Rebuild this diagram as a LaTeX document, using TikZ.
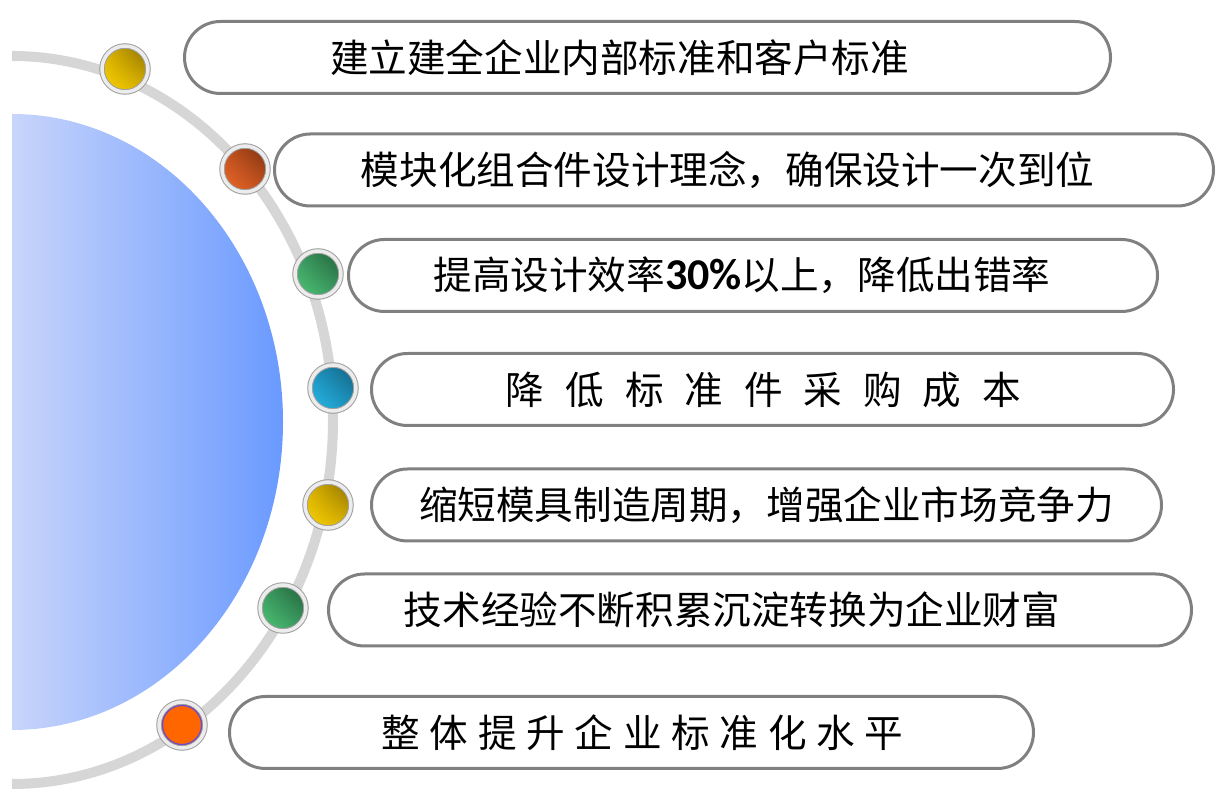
\documentclass[tikz,border=0pt]{standalone}
\usepackage{fontspec}
\usetikzlibrary{shadings}
\newfontfamily\cjk{Noto Sans CJK SC}
\newfontfamily\numfont{Carlito}
\definecolor{lineGray}{HTML}{808080}
\definecolor{arcGray}{HTML}{D6D6D6}
\definecolor{blueL}{HTML}{C8D5FB}
\definecolor{blueR}{HTML}{6A9AFF}
\definecolor{ylwL}{HTML}{FAD200}
\definecolor{ylwM}{HTML}{DDB400}
\definecolor{ylwD}{HTML}{8A6E00}
\definecolor{redL}{HTML}{F06A2A}
\definecolor{redM}{HTML}{C4521E}
\definecolor{redD}{HTML}{783010}
\definecolor{grnL}{HTML}{50C878}
\definecolor{grnM}{HTML}{3A9A60}
\definecolor{grnD}{HTML}{215E38}
\definecolor{cyanL}{HTML}{28BCEC}
\definecolor{cyanM}{HTML}{1C92BC}
\definecolor{cyanD}{HTML}{135E7E}
\definecolor{orng}{HTML}{FF6600}
\definecolor{rim}{HTML}{6A4AD0}
\newcommand{\gapA}{\hspace{21pt}}
\newcommand{\gapB}{\hspace{9.7pt}}
\tikzstyle{pill}=[draw=lineGray, line width=3pt, rounded corners=36pt, minimum height=72pt, inner sep=0pt]
\tikzstyle{words}=[font=\cjk\fontsize{38.6}{40}\selectfont, inner sep=0pt]
\tikzstyle{ball}=[circle, minimum size=46pt, inner sep=0pt, draw=gray!75, line width=1pt, double=gray!15, double distance=3.5pt]
\tikzstyle{yellowball}=[ball, upper right=ylwD, lower left=ylwL, upper left=ylwM, lower right=ylwM]
\tikzstyle{redball}=[ball, upper right=redD, lower left=redL, upper left=redM, lower right=redM]
\tikzstyle{greenball}=[ball, upper right=grnD, lower left=grnL, upper left=grnM, lower right=grnM]
\tikzstyle{cyanball}=[ball, upper right=cyanD, lower left=cyanL, upper left=cyanM, lower right=cyanM]
\tikzstyle{orangeball}=[ball, fill=orng]

\begin{document}
\begin{tikzpicture}[x=1pt, y=1pt]
  \useasboundingbox (0,0) rectangle (1222,791);
  % arc and half disc
  \draw[arcGray, line width=10pt] (12,735) arc[start angle=90, end angle=-90, x radius=321, y radius=364];
  \shade[left color=blueL, right color=blueR] (12,677) arc[start angle=90, end angle=-90, x radius=271, y radius=308] -- cycle;

  % boxes
  \node[pill, minimum width=926pt] (box1) at (647.5,733.5) {};
  \node[pill, minimum width=939pt] (box2) at (744,621) {};
  \node[pill, minimum width=809pt] (box3) at (753,515.5) {};
  \node[pill, minimum width=802pt] (box4) at (772.5,401.5) {};
  \node[pill, minimum width=790pt] (box5) at (766.5,286) {};
  \node[pill, minimum width=863pt] (box6) at (760,181) {};
  \node[pill, minimum width=804pt] (box7) at (631.5,58.5) {};

  % texts
  \node[words] (txt1) at ([xshift=-28pt]box1.center) {建立建全企业内部标准和客户标准};
  \node[words] (txt2) at ([xshift=-16.5pt]box2.center) {模块化组合件设计理念，确保设计一次到位};
  \node[words] (txt3) at ([xshift=-11pt]box3.center) {提高设计效率{\numfont\bfseries\fontsize{44}{46}\selectfont 30\%}以上，降低出错率};
  \node[words] (txt4) at ([xshift=-9pt]box4.center) {降\gapA 低\gapA 标\gapA 准\gapA 件\gapA 采\gapA 购\gapA 成\gapA 本};
  \node[words] (txt5) at (box5.center) {缩短模具制造周期，增强企业市场竞争力};
  \node[words] (txt6) at ([xshift=-28pt]box6.center) {技术经验不断积累沉淀转换为企业财富};
  \node[words] (txt7) at ([xshift=11pt]box7.center) {整\gapB 体\gapB 提\gapB 升\gapB 企\gapB 业\gapB 标\gapB 准\gapB 化\gapB 水\gapB 平};

  % dots on the arc
  \node[yellowball] (dot1) at (125,722) {};
  \node[redball] (dot2) at (245,622) {};
  \node[greenball] (dot3) at (318,517) {};
  \node[cyanball] (dot4) at (333,403) {};
  \node[yellowball] (dot5) at (328,286) {};
  \node[greenball] (dot6) at (283,183) {};
  \node[orangeball] (dot7) at (182,66) {};
  \draw[rim, line width=1.2pt] (dot7.center) circle (19.5pt);
\end{tikzpicture}
\end{document}
